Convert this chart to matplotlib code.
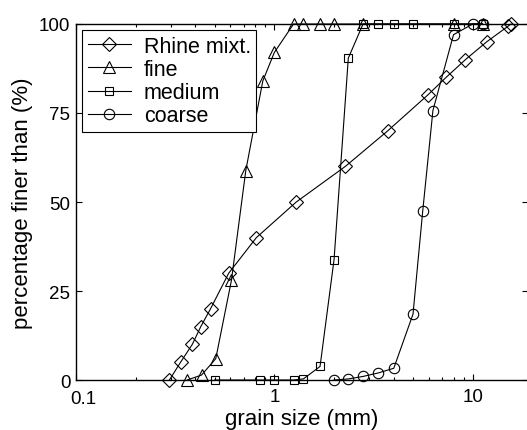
"""
Grain size distributions of the Rhine mixture and its three fractions
"""

import matplotlib
matplotlib.use('Agg')
import matplotlib.pyplot as plt
import matplotlib.transforms as mtransforms
from matplotlib.ticker import FixedLocator, LogLocator, NullFormatter

plt.rcParams['font.family'] = ['Liberation Sans', 'DejaVu Sans']

# sieve diameters (mm) and percentage finer
rhine_d = [0.296, 0.337, 0.386, 0.426, 0.477, 0.589, 0.812, 1.29, 2.28,
           3.73, 5.92, 7.34, 9.19, 11.76, 15.0, 15.6]
rhine_p = [0, 5, 10, 15, 20, 30, 40, 50, 60, 70, 80, 85, 90, 95, 99.3, 100]

fine_d = [0.364, 0.43, 0.507, 0.608, 0.718, 0.875, 1.0, 1.25, 1.4, 1.7,
          2.0, 2.8, 8.0, 11.2]
fine_p = [0, 1.4, 6, 28, 58.8, 84, 92, 100, 100, 100, 100, 100, 100, 100]

medium_d = [0.5, 0.85, 1.0, 1.25, 1.4, 1.7, 2.0, 2.36, 2.8, 3.35, 4.0, 5.0,
            8.0, 11.2]
medium_p = [0, 0, 0, 0, 0.3, 3.8, 33.8, 90.4, 100, 100, 100, 100, 100, 100]

coarse_d = [2.0, 2.36, 2.8, 3.35, 4.0, 5.0, 5.6, 6.3, 8.0, 10.0, 11.2]
coarse_p = [0, 0.3, 1, 2, 3.3, 18.5, 47.6, 75.7, 97, 100, 100]

series = [
    ('Rhine mixt.', rhine_d, rhine_p, 'D', 7),
    ('fine', fine_d, fine_p, '^', 8.5),
    ('medium', medium_d, medium_p, 's', 6),
    ('coarse', coarse_d, coarse_p, 'o', 7.5),
]

fig = plt.figure(figsize=(5.27, 4.31), dpi=100)
ax = fig.add_axes([0.144, 0.116, 0.858, 0.826])

for label, d, p, marker, ms in series:
    ax.plot(d, p, color='black', linewidth=0.8, marker=marker,
            markersize=ms, markerfacecolor='none', markeredgecolor='black',
            markeredgewidth=0.8, label=label, clip_on=False, zorder=3)

ax.set_xscale('log')
ax.set_xlim(0.1, 19)
ax.set_ylim(0, 100)

ax.xaxis.set_major_locator(FixedLocator([0.1, 1, 10]))
ax.set_xticklabels(['0.1', '1', '10'])
ax.xaxis.set_minor_locator(LogLocator(base=10, subs=range(2, 10)))
ax.xaxis.set_minor_formatter(NullFormatter())
ax.set_yticks([0, 25, 50, 75, 100])

ax.tick_params(which='both', direction='in', top=True, right=True,
               width=0.8, labelsize=13.5)
ax.tick_params(which='major', length=4)
ax.tick_params(axis='x', which='major', pad=6)
ax.tick_params(axis='y', which='major', pad=4)
ax.tick_params(which='minor', length=2.5)
for s in ax.spines.values():
    s.set_linewidth(1.0)

# nudge the first x label clear of the "0" on the y axis
first = ax.get_xticklabels()[0]
first.set_transform(first.get_transform() +
                    mtransforms.ScaledTranslation(7 / 100, -2 / 100,
                                                  fig.dpi_scale_trans))

ax.set_xlabel('grain size (mm)', fontsize=16, labelpad=0.5)
ax.set_ylabel('percentage finer than (%)', fontsize=16, labelpad=4)

leg = ax.legend(loc='upper left', fontsize=15.5, frameon=True, fancybox=False,
                edgecolor='black', framealpha=1, borderpad=0.25,
                labelspacing=0.1, handlelength=2.0, handletextpad=0.6,
                borderaxespad=0.3)
leg.get_frame().set_linewidth(0.8)

plt.savefig('out.png', dpi=100)
